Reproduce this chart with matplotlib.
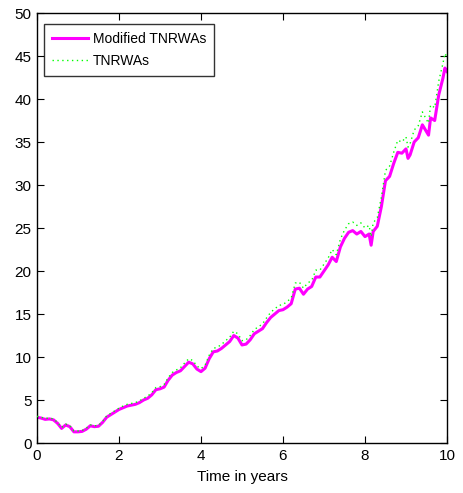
import matplotlib
matplotlib.use("Agg")
import matplotlib.pyplot as plt

plt.rcParams['font.family'] = ['Liberation Sans', 'DejaVu Sans']

t = [0.0, 0.1, 0.2, 0.3, 0.4, 0.5, 0.6, 0.7, 0.8, 0.9,
     1.0, 1.1, 1.2, 1.3, 1.4, 1.5, 1.6, 1.7, 1.8, 1.9,
     2.0, 2.1, 2.2, 2.3, 2.4, 2.5, 2.6, 2.7, 2.8, 2.9,
     3.0, 3.1, 3.2, 3.3, 3.4, 3.5, 3.6, 3.7, 3.8, 3.9,
     4.0, 4.1, 4.2, 4.3, 4.4, 4.5, 4.6, 4.7, 4.8, 4.9,
     5.0, 5.1, 5.2, 5.3, 5.4, 5.5, 5.6, 5.7, 5.8, 5.9,
     6.0, 6.1, 6.2, 6.3, 6.4, 6.5, 6.6, 6.7, 6.8, 6.9,
     7.0, 7.1, 7.2, 7.3, 7.4, 7.5, 7.6, 7.7, 7.8, 7.9,
     8.0, 8.1, 8.15, 8.2, 8.3, 8.4, 8.5, 8.6, 8.7, 8.8, 8.9,
     9.0, 9.05, 9.1, 9.2, 9.3, 9.4, 9.5, 9.55, 9.6, 9.7, 9.8, 9.9, 9.95, 10.0]

modified = [3.0, 2.9, 2.75, 2.8, 2.7, 2.3, 1.7, 2.1, 1.9, 1.3,
            1.3, 1.35, 1.6, 2.0, 1.9, 1.95, 2.4, 3.0, 3.3, 3.6,
            3.9, 4.1, 4.3, 4.4, 4.5, 4.7, 5.0, 5.2, 5.6, 6.2,
            6.3, 6.5, 7.3, 7.9, 8.2, 8.4, 8.9, 9.4, 9.2, 8.6,
            8.3, 8.7, 9.8, 10.6, 10.7, 11.0, 11.4, 11.8, 12.5, 12.2,
            11.4, 11.5, 12.0, 12.7, 13.0, 13.3, 14.0, 14.6, 15.0, 15.4,
            15.5, 15.8, 16.2, 17.9, 18.0, 17.3, 17.9, 18.2, 19.3, 19.3,
            20.0, 20.7, 21.6, 21.1, 22.8, 23.8, 24.5, 24.7, 24.3, 24.6,
            24.0, 24.3, 23.0, 24.6, 25.2, 27.5, 30.5, 31.0, 32.5, 33.8, 33.7,
            34.2, 33.1, 33.5, 35.0, 35.5, 37.0, 36.2, 35.8, 37.8, 37.5, 40.5, 42.4, 43.6, 43.2]

tnrwas = [3.1, 3.0, 2.85, 2.9, 2.8, 2.4, 1.8, 2.2, 2.0, 1.4,
          1.4, 1.45, 1.7, 2.1, 2.0, 2.05, 2.5, 3.15, 3.45, 3.75,
          4.05, 4.3, 4.5, 4.6, 4.7, 4.9, 5.2, 5.45, 5.85, 6.45,
          6.55, 6.8, 7.6, 8.2, 8.5, 8.75, 9.3, 9.8, 9.6, 8.95,
          8.65, 9.05, 10.2, 11.0, 11.15, 11.45, 11.9, 12.3, 13.0, 12.7,
          11.9, 12.0, 12.5, 13.2, 13.5, 13.85, 14.55, 15.2, 15.6, 16.0,
          16.1, 16.45, 16.85, 18.6, 18.7, 18.0, 18.6, 18.9, 20.1, 20.1,
          20.8, 21.5, 22.5, 21.9, 23.7, 24.75, 25.5, 25.7, 25.3, 25.6,
          25.0, 25.3, 24.0, 25.6, 26.2, 28.6, 31.7, 32.2, 33.8, 35.2, 35.0,
          35.6, 34.4, 34.8, 36.4, 36.9, 38.5, 37.6, 37.2, 39.3, 39.0, 42.1, 44.1, 45.3, 44.9]

xticks = [0, 2, 4, 6, 8, 10]
yticks = [0, 5, 10, 15, 20, 25, 30, 35, 40, 45, 50]

fig = plt.figure(figsize=(4.63, 4.93), dpi=100)
ax = fig.add_axes([0.0799, 0.1014, 0.8855, 0.8722])

ax.plot(t, modified, color='#ff00ff', linewidth=2.2, label='Modified TNRWAs', zorder=2)
ax.plot(t, tnrwas, color='#00ff00', linewidth=1.0, linestyle=(0, (1, 2.5)), label='TNRWAs', zorder=3)

ax.set_xlim(0, 10)
ax.set_ylim(0, 50)
ax.set_xticks(xticks)
ax.set_yticks(yticks)
ax.tick_params(direction='in', top=True, right=True, length=5, width=0.8, labelsize=11, pad=4)
for s in ax.spines.values():
    s.set_linewidth(1.0)
ax.set_xlabel('Time in years', fontsize=11, labelpad=5)

leg = ax.legend(loc='upper left', bbox_to_anchor=(0.017, 0.9744), frameon=True, fancybox=False,
                edgecolor='black', fontsize=10, handlelength=2.65, borderpad=0.55, labelspacing=0.6,
                handletextpad=0.3, borderaxespad=0)
leg.get_frame().set_linewidth(1.0)

fig.savefig('out.png', dpi=100)
